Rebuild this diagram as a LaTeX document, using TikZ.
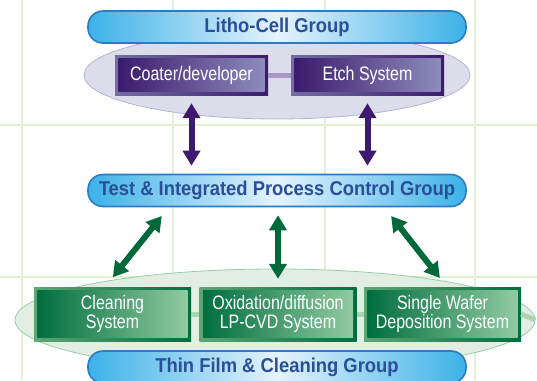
\documentclass[tikz,border=0pt]{standalone}
\usepackage{fontspec}
\usetikzlibrary{arrows.meta,shapes.geometric}
\newfontfamily\barfont[FakeStretch=0.92]{Liberation Sans}
\newfontfamily\boxfont[FakeStretch=0.82]{Liberation Sans}
\definecolor{gridc}{HTML}{E2F0D8}
\definecolor{barblue}{HTML}{3CB2E8}
\definecolor{barlight}{HTML}{E6F3FC}
\definecolor{barborder}{HTML}{2C7CC2}
\definecolor{bartext}{HTML}{2A4E98}
\definecolor{ellp}{HTML}{DCDCEA}
\definecolor{ellpb}{HTML}{B4B4D4}
\definecolor{ellg}{HTML}{E2EEE2}
\definecolor{ellgb}{HTML}{98CCA8}
\definecolor{pdark}{HTML}{3C1A6C}
\definecolor{plight}{HTML}{8C8CBC}
\definecolor{pframe}{HTML}{7070A4}
\definecolor{plink}{HTML}{A898C8}
\definecolor{gdark}{HTML}{006E3E}
\definecolor{glight}{HTML}{92CAA2}
\definecolor{gframe}{HTML}{5EA676}
\definecolor{glink}{HTML}{A8D6B2}
\definecolor{parr}{HTML}{3C1A6E}
\definecolor{garr}{HTML}{00693A}
\begin{document}
\begin{tikzpicture}[x=1pt,y=-1pt,
  groupbar/.style={rounded corners=15pt, draw=barborder, line width=1.6pt,
    left color=barblue, right color=barblue, middle color=barlight,
    minimum width=378pt, minimum height=32pt, inner sep=0pt,
    font=\barfont\bfseries\fontsize{20}{22}\selectfont, text=bartext},
  pouter/.style={left color=pframe, right color=pdark, minimum width=153pt,
    minimum height=40pt, inner sep=0pt},
  pinner/.style={left color=pdark, right color=plight, minimum width=146pt,
    minimum height=33pt, inner sep=0pt, text=white,
    font=\boxfont\fontsize{19.5}{19.5}\selectfont},
  gouter/.style={left color=gframe, right color=gdark, minimum width=157pt,
    minimum height=54pt, inner sep=0pt},
  ginner/.style={left color=gdark, right color=glight, minimum width=150pt,
    minimum height=47pt, inner sep=0pt, text=white, align=center,
    font=\boxfont\fontsize{19.5}{19.5}\selectfont},
  parrow/.style={draw=parr, line width=6pt,
    {Triangle[width=17pt,length=15pt]}-{Triangle[width=17pt,length=15pt]}},
  garrow/.style={draw=garr, line width=6pt,
    {Triangle[width=17pt,length=15pt]}-{Triangle[width=17pt,length=15pt]}}
]
\useasboundingbox (0,0) rectangle (537,380);
\clip (0,0) rectangle (537,380);
% grid
\begin{scope}[draw=gridc, line width=2pt]
  \foreach \gx in {22,173,325,475} \draw (\gx,0) -- (\gx,380);
  \foreach \gy in {125,277} \draw (0,\gy) -- (537,\gy);
\end{scope}
% litho group
\node[draw=ellpb, fill=ellp, ellipse, minimum width=386pt, minimum height=88pt, inner sep=0pt, line width=0.8pt] (ell1) at (277,75) {};
\node[groupbar] (litho) at (277,27) {Litho-Cell Group};
\node[pouter] (coater) at (191.5,75) {};
\node[pouter] (etch) at (367.5,75) {};
\draw[draw=plink, line width=5pt] (coater.east) -- (etch.west);
\node[pinner] (coatertxt) at (coater) {Coater/developer};
\node[pinner] (etchtxt) at (etch) {Etch System};
% test group
\node[groupbar] (test) at (277,190.5) {Test \& Integrated Process Control Group};
% thin film group
\node[draw=ellgb, fill=ellg, ellipse, minimum width=520pt, minimum height=102pt, inner sep=0pt, line width=0.8pt] (ell2) at (275,320) {};
\node[gouter] (clean) at (112.5,314) {};
\node[gouter] (oxid) at (278,314) {};
\node[gouter] (single) at (442.5,314) {};
\draw[draw=glink, line width=5pt] (clean.east) -- (oxid.west);
\draw[draw=glink, line width=5pt] (oxid.east) -- (single.west);
\draw[draw=glink, line width=5pt] (single.east) -- (ell2.east);
\node[ginner] (cleantxt) at (clean) {Cleaning\\System};
\node[ginner] (oxidtxt) at (oxid) {Oxidation/diffusion\\LP-CVD System};
\node[ginner] (singletxt) at (single) {Single Wafer\\Deposition System};
\node[groupbar] (thin) at (277,367) {Thin Film \& Cleaning Group};
% arrows
\draw[parrow, shorten <=8pt, shorten >=8pt] (coater.south) -- (coater.south |- test.north);
\draw[parrow, shorten <=8pt, shorten >=8pt] (etch.south) -- (etch.south |- test.north);
\coordinate (gA) at (169,207);
\coordinate (gB) at (105,287);
\coordinate (gC) at (384,207);
\coordinate (gD) at (447,287);
\draw[garrow, shorten <=11.5pt, shorten >=12.5pt] (gA) -- (gB);
\draw[garrow, shorten <=8pt, shorten >=8pt] (oxid.north |- test.south) -- (oxid.north);
\draw[garrow, shorten <=11.5pt, shorten >=11.5pt] (gC) -- (gD);
\end{tikzpicture}
\end{document}
